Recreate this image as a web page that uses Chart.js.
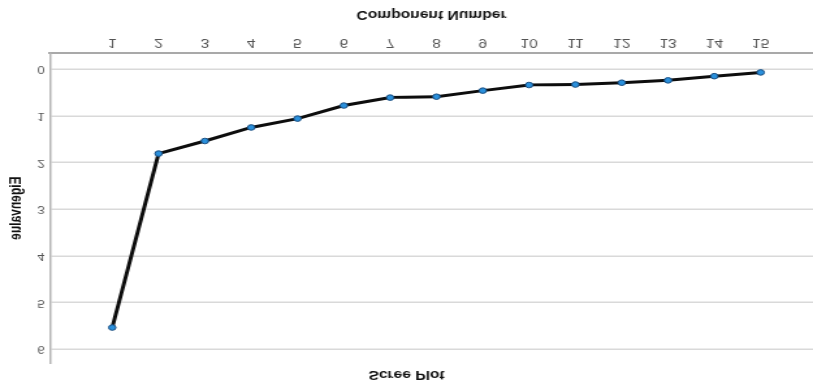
<!DOCTYPE html>
<html>
<head>
<meta charset="utf-8">
<title>Scree Plot</title>
<script src="https://cdn.jsdelivr.net/npm/chart.js@4/dist/chart.umd.min.js"></script>
<style>
  html, body { margin: 0; padding: 0; background: #ffffff; overflow: hidden; }
  #wrap { width: 813px; height: 384px; position: relative; }
  /* the plot is drawn on a narrower canvas, then widened and mirrored top-to-bottom */
  #chart {
    display: block;
    transform-origin: 0 0;
    transform: translateY(384px) scale(1.3008, -1);
  }
</style>
</head>
<body>
<div id="wrap">
  <canvas id="chart" width="625" height="384"></canvas>
</div>
<script>
// Component numbers and their eigenvalues
const components = [1, 2, 3, 4, 5, 6, 7, 8, 9, 10, 11, 12, 13, 14, 15];
const eigenvalues = [5.54, 1.81, 1.54, 1.25, 1.06, 0.78, 0.61, 0.59, 0.46, 0.34, 0.33, 0.29, 0.24, 0.15, 0.07];

// Tick labels shown on each axis
const xTickValues = [1, 2, 3, 4, 5, 6, 7, 8, 9, 10, 11, 12, 13, 14, 15];
const yTickValues = [0, 1, 2, 3, 4, 5, 6];

const chartTitle = 'Scree Plot';
const xTitle = 'Component Number';
const yTitle = 'Eigenvalue';

const points = components.map((c, i) => ({ x: c, y: eigenvalues[i] }));

const FONT = "'Liberation Sans', Arial, Helvetica, sans-serif";

new Chart(document.getElementById('chart'), {
  type: 'line',
  data: {
    datasets: [{
      data: points,
      borderColor: '#0d0d0d',
      borderWidth: 3,
      tension: 0,
      fill: false,
      pointRadius: 2.8,
      pointBorderWidth: 1,
      pointBackgroundColor: '#2a90dc',
      pointBorderColor: '#1b4e80'
    }]
  },
  options: {
    responsive: false,
    devicePixelRatio: 1,
    animation: false,
    layout: { padding: 0, autoPadding: false },
    plugins: {
      legend: { display: false },
      tooltip: { enabled: false },
      title: {
        display: true,
        text: chartTitle,
        color: '#111111',
        font: { family: FONT, size: 12, weight: 'bold', lineHeight: 1.2 },
        padding: { top: 2, bottom: 4.6 }
      }
    },
    scales: {
      x: {
        type: 'linear',
        position: 'bottom',
        min: -0.345,
        max: 16.13,
        afterBuildTicks: (scale) => { scale.ticks = xTickValues.map(v => ({ value: v })); },
        afterFit: (scale) => {
          scale.height = 53.3;
          scale.paddingLeft = 0;
          scale.paddingRight = 0;
        },
        grid: { display: false, drawTicks: false },
        border: { display: true, color: '#a9a9a9', width: 2 },
        ticks: {
          color: '#555555',
          padding: 4,
          autoSkip: false,
          maxRotation: 0,
          font: { family: FONT, size: 12, lineHeight: 1.2 },
          callback: (v) => String(v)
        },
        title: {
          display: true,
          text: xTitle,
          color: '#111111',
          font: { family: FONT, size: 12, weight: 'bold', lineHeight: 1.2 },
          padding: { top: 0, bottom: 6.8 }
        }
      },
      y: {
        type: 'linear',
        position: 'left',
        min: -0.34,
        max: 6.30,
        afterBuildTicks: (scale) => { scale.ticks = yTickValues.map(v => ({ value: v })); },
        afterFit: (scale) => {
          scale.width = 38.4;
          scale.paddingTop = 0;
          scale.paddingBottom = 0;
        },
        grid: { display: true, drawTicks: false, color: '#d9d9d9', lineWidth: 1.6 },
        border: { display: true, color: '#b3b3b3', width: 1.5 },
        ticks: {
          color: '#555555',
          padding: 4,
          autoSkip: false,
          font: { family: FONT, size: 10, lineHeight: 1.2 },
          callback: (v) => String(v)
        },
        title: {
          display: true,
          text: yTitle,
          color: '#111111',
          font: { family: FONT, size: 12, weight: 'bold', lineHeight: 1.2 },
          padding: { top: 5.1, bottom: 0 }
        }
      }
    }
  }
});
</script>
</body>
</html>
